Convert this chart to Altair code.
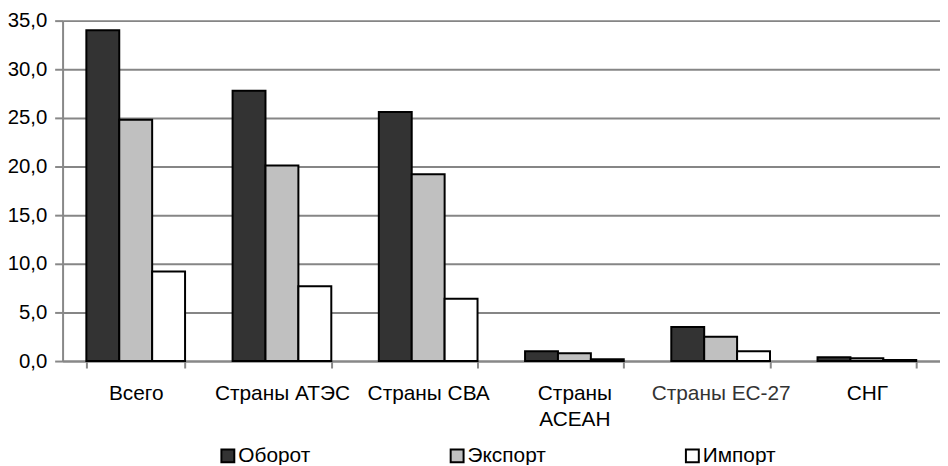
import altair as alt
import pandas as pd

categories = ["Всего", "Страны АТЭС", "Страны СВА", "Страны АСЕАН", "Страны ЕС-27", "СНГ"]
series = ["Оборот", "Экспорт", "Импорт"]
oborot = [34.0, 27.8, 25.6, 1.0, 3.5, 0.4]
eksport = [24.8, 20.1, 19.2, 0.8, 2.5, 0.3]
import_ = [9.2, 7.7, 6.4, 0.2, 1.0, 0.1]
colors = ["#333333", "#c0c0c0", "#ffffff"]
y_ticks = [0, 5, 10, 15, 20, 25, 30, 35]

rows = []
for s, vals in zip(series, [oborot, eksport, import_]):
    for c, v in zip(categories, vals):
        rows.append({"cat": c, "series": s, "value": v})
df = pd.DataFrame(rows)

FONT = "Liberation Sans"

chart = alt.Chart(df).mark_bar(stroke="black", strokeWidth=2).encode(
    x=alt.X("cat:N", sort=categories, title=None,
            scale=alt.Scale(paddingInner=0.325, paddingOuter=0.1625),
            axis=alt.Axis(labelAngle=0, labelFontSize=21, labelFont=FONT,
                          labelColor=alt.expr("datum.value == 'Страны ЕС-27' ? '#333333' : '#000000'"),
                          labelExpr="datum.value == 'Страны АСЕАН' ? ['Страны', 'АСЕАН'] : datum.value",
                          labelLineHeight=26, labelPadding=15, labelLimit=200,
                          tickBand="extent", tickSize=7, tickColor="#888888", tickWidth=2,
                          domainColor="#888888", domainWidth=2, grid=False)),
    xOffset=alt.XOffset("series:N", sort=series,
                        scale=alt.Scale(paddingInner=0, paddingOuter=0)),
    y=alt.Y("value:Q", title=None,
            scale=alt.Scale(domain=[0, 35], nice=False),
            axis=alt.Axis(values=y_ticks,
                          labelExpr="replace(format(datum.value, '.1f'), '.', ',')",
                          labelFontSize=20.5, labelFont=FONT, labelColor="#000000",
                          labelPadding=8, tickSize=8, tickColor="#888888", tickWidth=2,
                          domainColor="#888888", domainWidth=2,
                          grid=True, gridColor="#868686", gridWidth=2)),
    fill=alt.Fill("series:N", sort=series,
                  scale=alt.Scale(domain=series, range=colors),
                  legend=alt.Legend(title=None, orient="none", legendX=156, legendY=428,
                                    direction="horizontal", symbolType="square",
                                    symbolSize=169, symbolStrokeColor="black",
                                    symbolStrokeWidth=2, labelFontSize=21, labelFont=FONT,
                                    labelColor="#000000", labelOffset=0,
                                    columnPadding=137, labelLimit=200)),
).properties(
    width=884, height=343,
    autosize=alt.AutoSizeParams(type="none"),
    padding={"left": 55, "top": 11, "right": 0, "bottom": 103},
).configure_view(stroke=None).configure(font=FONT)

chart.save("out.html", embed_options={"renderer": "svg", "actions": False})
